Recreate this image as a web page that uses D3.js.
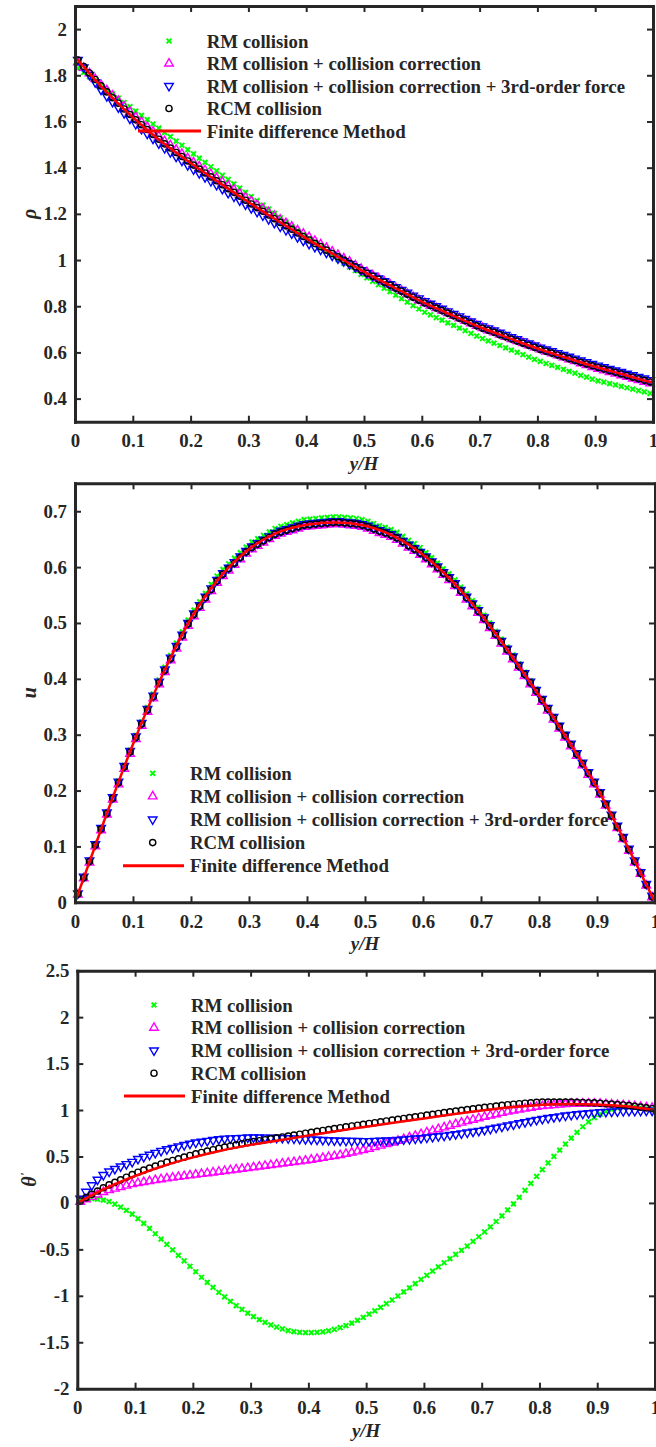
<!DOCTYPE html>
<meta charset="utf-8">
<style>
body { margin: 0; background: #fff; }
svg text { font-family: "Liberation Serif", "Times New Roman", serif; font-weight: bold; fill: #262626; }
</style>
<body>
<svg id="chart" width="656" height="1447"></svg>

<script src="https://cdnjs.cloudflare.com/ajax/libs/d3/7.8.5/d3.min.js"></script>
<script>

// marker positions (y/H) and finite difference knots
var xs = [0.005,0.015,0.025,0.035,0.045,0.055,0.065,0.075,0.085,0.095,
          0.105,0.115,0.125,0.135,0.145,0.155,0.165,0.175,0.185,0.195,
          0.205,0.215,0.225,0.235,0.245,0.255,0.265,0.275,0.285,0.295,
          0.305,0.315,0.325,0.335,0.345,0.355,0.365,0.375,0.385,0.395,
          0.405,0.415,0.425,0.435,0.445,0.455,0.465,0.475,0.485,0.495,
          0.505,0.515,0.525,0.535,0.545,0.555,0.565,0.575,0.585,0.595,
          0.605,0.615,0.625,0.635,0.645,0.655,0.665,0.675,0.685,0.695,
          0.705,0.715,0.725,0.735,0.745,0.755,0.765,0.775,0.785,0.795,
          0.805,0.815,0.825,0.835,0.845,0.855,0.865,0.875,0.885,0.895,
          0.905,0.915,0.925,0.935,0.945,0.955,0.965,0.975,0.985,0.995];
var xFD = [0,0.05,0.1,0.15,0.2,0.25,0.3,0.35,0.4,0.45,0.5,0.55,0.6,0.65,0.7,0.75,0.8,0.85,0.9,0.95,1];

var xTicks = [0,0.1,0.2,0.3,0.4,0.5,0.6,0.7,0.8,0.9,1];
var rhoTicks = [0.4,0.6,0.8,1,1.2,1.4,1.6,1.8,2];
var uTicks = [0,0.1,0.2,0.3,0.4,0.5,0.6,0.7];
var thetaTicks = [-2,-1.5,-1,-0.5,0,0.5,1,1.5,2,2.5];

var legendNames = ["RM collision", "RM collision + collision correction",
    "RM collision + collision correction + 3rd-order force", "RCM collision", "Finite difference Method"];

// ---- density rho ----
var rhoRM = [1.830,1.812,1.793,1.775,1.756,1.738,1.719,1.701,1.682,1.664,
             1.645,1.626,1.608,1.589,1.571,1.552,1.534,1.515,1.497,1.478,
             1.460,1.441,1.423,1.404,1.386,1.367,1.349,1.330,1.312,1.293,
             1.275,1.257,1.238,1.220,1.202,1.183,1.165,1.147,1.128,1.110,
             1.091,1.073,1.055,1.037,1.019,1.002,0.986,0.970,0.954,0.938,
             0.923,0.908,0.893,0.878,0.863,0.848,0.833,0.818,0.803,0.788,
             0.774,0.763,0.751,0.740,0.728,0.717,0.705,0.694,0.682,0.671,
             0.660,0.650,0.640,0.630,0.620,0.610,0.600,0.590,0.580,0.570,
             0.561,0.552,0.544,0.535,0.527,0.518,0.510,0.501,0.493,0.484,
             0.477,0.471,0.465,0.459,0.453,0.447,0.441,0.435,0.429,0.423];
var rhoCC = [1.856,1.832,1.808,1.784,1.759,1.735,1.712,1.689,1.665,1.642,
             1.619,1.598,1.577,1.556,1.535,1.515,1.497,1.478,1.460,1.441,
             1.423,1.406,1.389,1.372,1.355,1.338,1.321,1.305,1.288,1.271,
             1.255,1.239,1.223,1.207,1.191,1.175,1.160,1.145,1.129,1.114,
             1.099,1.083,1.068,1.053,1.037,1.022,1.007,0.993,0.977,0.962,
             0.948,0.934,0.921,0.907,0.894,0.880,0.867,0.853,0.840,0.826,
             0.814,0.803,0.792,0.781,0.770,0.759,0.748,0.737,0.726,0.715,
             0.705,0.696,0.687,0.677,0.668,0.658,0.649,0.640,0.631,0.622,
             0.613,0.604,0.596,0.587,0.579,0.570,0.562,0.553,0.545,0.537,
             0.529,0.522,0.515,0.508,0.501,0.494,0.487,0.480,0.473,0.466];
var rho3rd = [1.866,1.834,1.802,1.770,1.738,1.710,1.685,1.661,1.636,1.612,
              1.589,1.568,1.547,1.526,1.505,1.485,1.467,1.448,1.430,1.411,
              1.393,1.376,1.359,1.342,1.325,1.308,1.291,1.275,1.258,1.241,
              1.225,1.209,1.193,1.177,1.161,1.145,1.130,1.115,1.099,1.084,
              1.070,1.057,1.045,1.032,1.019,1.007,0.995,0.982,0.969,0.956,
              0.944,0.932,0.920,0.908,0.895,0.883,0.871,0.859,0.846,0.834,
              0.822,0.811,0.800,0.789,0.778,0.767,0.756,0.745,0.734,0.723,
              0.713,0.704,0.695,0.685,0.676,0.666,0.657,0.648,0.639,0.630,
              0.621,0.613,0.605,0.597,0.589,0.581,0.573,0.565,0.558,0.550,
              0.543,0.536,0.529,0.522,0.515,0.508,0.501,0.494,0.487,0.480];
var rhoRCM = [1.866,1.838,1.810,1.782,1.754,1.728,1.703,1.679,1.654,1.630,
              1.607,1.586,1.565,1.544,1.523,1.503,1.485,1.466,1.448,1.429,
              1.411,1.394,1.377,1.360,1.343,1.326,1.309,1.293,1.276,1.259,
              1.243,1.227,1.211,1.195,1.179,1.163,1.148,1.133,1.117,1.102,
              1.087,1.072,1.058,1.043,1.028,1.014,1.000,0.986,0.971,0.957,
              0.943,0.930,0.917,0.904,0.891,0.878,0.865,0.852,0.839,0.826,
              0.814,0.803,0.792,0.781,0.770,0.759,0.748,0.737,0.726,0.715,
              0.705,0.696,0.687,0.677,0.668,0.658,0.649,0.640,0.631,0.622,
              0.613,0.605,0.597,0.589,0.581,0.573,0.565,0.557,0.550,0.542,
              0.535,0.528,0.521,0.514,0.507,0.500,0.493,0.486,0.479,0.472];
var rhoFD = [1.880,1.740,1.618,1.512,1.420,1.334,1.251,1.171,1.094,1.021,0.950,
             0.884,0.820,0.764,0.710,0.663,0.617,0.577,0.538,0.503,0.468];

// ---- velocity u ----
var uRM = [0.015,0.045,0.074,0.104,0.133,0.161,0.189,0.217,0.245,0.272,
           0.299,0.323,0.349,0.373,0.398,0.421,0.442,0.464,0.484,0.505,
           0.523,0.538,0.553,0.569,0.584,0.596,0.606,0.616,0.626,0.636,
           0.645,0.651,0.657,0.663,0.669,0.673,0.676,0.679,0.682,0.685,
           0.686,0.687,0.688,0.689,0.690,0.690,0.689,0.688,0.687,0.685,
           0.682,0.678,0.674,0.671,0.667,0.662,0.655,0.648,0.642,0.635,
           0.626,0.617,0.607,0.597,0.588,0.577,0.564,0.552,0.540,0.528,
           0.514,0.500,0.485,0.471,0.457,0.443,0.427,0.412,0.397,0.382,
           0.365,0.349,0.333,0.317,0.301,0.284,0.267,0.250,0.233,0.216,
           0.196,0.176,0.156,0.136,0.116,0.094,0.073,0.052,0.031,0.010];
var uCC = [0.014,0.043,0.071,0.100,0.129,0.157,0.184,0.211,0.239,0.266,
           0.292,0.316,0.341,0.365,0.390,0.412,0.433,0.454,0.474,0.495,
           0.512,0.527,0.542,0.557,0.572,0.584,0.594,0.604,0.614,0.624,
           0.632,0.638,0.644,0.650,0.656,0.660,0.663,0.666,0.669,0.672,
           0.673,0.674,0.675,0.676,0.677,0.677,0.676,0.675,0.674,0.672,
           0.669,0.665,0.661,0.658,0.654,0.649,0.642,0.635,0.629,0.622,
           0.614,0.605,0.596,0.586,0.577,0.566,0.554,0.542,0.530,0.518,
           0.505,0.491,0.477,0.463,0.449,0.435,0.420,0.405,0.390,0.375,
           0.359,0.343,0.327,0.311,0.295,0.279,0.262,0.245,0.228,0.211,
           0.193,0.173,0.153,0.133,0.113,0.092,0.071,0.051,0.030,0.009];
var u3rd = [0.016,0.046,0.075,0.104,0.133,0.161,0.188,0.216,0.244,0.271,
            0.297,0.321,0.346,0.370,0.395,0.417,0.438,0.459,0.479,0.500,
            0.517,0.532,0.547,0.562,0.577,0.589,0.599,0.609,0.619,0.629,
            0.637,0.643,0.649,0.655,0.661,0.665,0.668,0.671,0.674,0.677,
            0.678,0.679,0.680,0.681,0.682,0.682,0.681,0.680,0.679,0.677,
            0.674,0.670,0.666,0.663,0.659,0.654,0.647,0.640,0.634,0.627,
            0.619,0.610,0.601,0.591,0.582,0.571,0.559,0.547,0.535,0.523,
            0.510,0.496,0.482,0.468,0.454,0.440,0.425,0.410,0.395,0.380,
            0.364,0.348,0.332,0.316,0.300,0.284,0.267,0.250,0.233,0.216,
            0.197,0.177,0.157,0.137,0.117,0.096,0.075,0.054,0.033,0.012];
var uRCM = [0.015,0.044,0.073,0.102,0.131,0.159,0.186,0.214,0.242,0.269,
            0.295,0.319,0.344,0.368,0.393,0.415,0.436,0.457,0.477,0.498,
            0.515,0.530,0.545,0.560,0.575,0.587,0.597,0.607,0.617,0.627,
            0.635,0.641,0.647,0.653,0.659,0.663,0.666,0.669,0.672,0.675,
            0.676,0.677,0.678,0.679,0.680,0.680,0.679,0.678,0.677,0.675,
            0.672,0.668,0.664,0.661,0.657,0.652,0.645,0.638,0.632,0.625,
            0.617,0.608,0.599,0.589,0.580,0.569,0.557,0.545,0.533,0.521,
            0.508,0.494,0.480,0.466,0.452,0.438,0.423,0.408,0.393,0.378,
            0.362,0.346,0.330,0.314,0.298,0.282,0.265,0.248,0.231,0.214,
            0.195,0.175,0.155,0.135,0.115,0.094,0.073,0.052,0.031,0.010];
var uFD = [0,0.145,0.283,0.405,0.508,0.582,0.632,0.662,0.676,0.680,0.674,
           0.655,0.622,0.575,0.515,0.445,0.370,0.290,0.205,0.105,0];

// ---- temperature theta' ----
var thRM = [0.040,0.045,0.045,0.040,0.030,0.015,-0.014,-0.045,-0.080,-0.121,
            -0.170,-0.220,-0.275,-0.332,-0.390,-0.447,-0.506,-0.565,-0.623,-0.682,
            -0.741,-0.800,-0.855,-0.909,-0.962,-1.012,-1.060,-1.106,-1.147,-1.187,
            -1.224,-1.256,-1.286,-1.314,-1.336,-1.357,-1.375,-1.386,-1.393,-1.396,
            -1.397,-1.394,-1.388,-1.378,-1.362,-1.343,-1.320,-1.294,-1.265,-1.233,
            -1.198,-1.162,-1.124,-1.085,-1.045,-1.002,-0.958,-0.914,-0.869,-0.824,
            -0.779,-0.734,-0.689,-0.644,-0.600,-0.555,-0.510,-0.464,-0.415,-0.364,
            -0.312,-0.258,-0.200,-0.140,-0.076,-0.010,0.060,0.135,0.210,0.285,
            0.358,0.430,0.500,0.568,0.634,0.698,0.760,0.820,0.872,0.918,
            0.955,0.985,1.008,1.024,1.034,1.038,1.036,1.030,1.022,1.013];
var thCC = [0.013,0.039,0.065,0.091,0.117,0.138,0.154,0.170,0.186,0.202,
            0.215,0.225,0.235,0.245,0.255,0.264,0.272,0.280,0.288,0.296,
            0.304,0.312,0.320,0.328,0.336,0.344,0.352,0.360,0.368,0.376,
            0.384,0.392,0.400,0.408,0.416,0.424,0.432,0.440,0.448,0.456,
            0.465,0.475,0.485,0.495,0.505,0.516,0.529,0.542,0.555,0.568,
            0.583,0.600,0.617,0.634,0.651,0.669,0.687,0.705,0.723,0.741,
            0.759,0.777,0.795,0.813,0.831,0.848,0.864,0.880,0.896,0.912,
            0.927,0.941,0.955,0.969,0.983,0.995,1.005,1.015,1.025,1.035,
            1.043,1.048,1.053,1.058,1.063,1.066,1.068,1.069,1.070,1.070,
            1.068,1.064,1.060,1.056,1.052,1.047,1.041,1.035,1.029,1.023];
var th3rd = [0.045,0.120,0.190,0.250,0.300,0.338,0.366,0.393,0.418,0.442,
             0.473,0.496,0.518,0.539,0.560,0.578,0.593,0.608,0.623,0.638,
             0.650,0.659,0.668,0.677,0.686,0.692,0.695,0.698,0.701,0.704,
             0.705,0.704,0.703,0.702,0.701,0.699,0.696,0.693,0.690,0.687,
             0.684,0.681,0.678,0.675,0.672,0.670,0.669,0.668,0.667,0.666,
             0.666,0.668,0.670,0.672,0.674,0.678,0.683,0.688,0.693,0.698,
             0.704,0.711,0.718,0.725,0.732,0.740,0.749,0.758,0.767,0.776,
             0.786,0.798,0.810,0.822,0.834,0.846,0.858,0.870,0.882,0.894,
             0.905,0.914,0.923,0.932,0.941,0.948,0.954,0.960,0.966,0.972,
             0.977,0.980,0.983,0.986,0.989,0.990,0.991,0.992,0.993,0.994];
var thRCM = [0.021,0.057,0.093,0.128,0.163,0.194,0.221,0.249,0.277,0.305,
             0.331,0.353,0.375,0.397,0.419,0.439,0.457,0.475,0.493,0.511,
             0.528,0.543,0.558,0.573,0.588,0.601,0.613,0.625,0.637,0.649,
             0.660,0.670,0.680,0.690,0.700,0.710,0.720,0.730,0.740,0.750,
             0.760,0.770,0.780,0.790,0.800,0.810,0.819,0.828,0.837,0.846,
             0.855,0.864,0.873,0.882,0.891,0.900,0.909,0.918,0.927,0.936,
             0.945,0.954,0.963,0.972,0.981,0.989,0.997,1.005,1.013,1.021,
             1.029,1.036,1.043,1.050,1.057,1.063,1.068,1.073,1.078,1.083,
             1.085,1.086,1.086,1.086,1.086,1.086,1.083,1.081,1.079,1.077,
             1.073,1.068,1.064,1.059,1.055,1.048,1.040,1.031,1.023,1.014];
var thFD = [0,0.16,0.29,0.40,0.49,0.565,0.625,0.675,0.725,0.775,0.82,
            0.865,0.91,0.955,0.995,1.03,1.055,1.065,1.06,1.04,1.0];

var ink = "#262626";
var svg = d3.select("#chart");

var markerStyles = [
    {color: "#00ff00", shape: "cross"},
    {color: "#ff00ff", shape: "up"},
    {color: "#0000ff", shape: "down"},
    {color: "#000000", shape: "circle"}
];

function markerPath(shape) {
    if (shape === "cross") return "M-2.4,-2.4L2.4,2.4M-2.4,2.4L2.4,-2.4";
    if (shape === "circle") return d3.symbol().type(d3.symbolCircle).size(30)();
    return d3.symbol().type(d3.symbolTriangle).size(32)();
}

function drawMarker(sel, shape, color) {
    return sel.attr("d", markerPath(shape))
        .attr("fill", "none")
        .attr("stroke", color)
        .attr("stroke-width", shape === "cross" ? 2 : 1.4);
}

function styleAxis(g) {
    g.attr("font-size", null).attr("font-family", null);
    g.select(".domain").attr("stroke", ink).attr("stroke-width", 3).attr("stroke-linecap", "square");
    g.selectAll(".tick line").attr("stroke", ink).attr("stroke-width", 2);
    g.selectAll(".tick text").attr("fill", ink).style("font-size", "18.8px");
}

function drawPanel(p) {
    var x = d3.scaleLinear().domain([0, 1]).range([p.left, p.right]);
    var y = d3.scaleLinear().domain(p.yDomain).range([p.bottom, p.top]);
    var g = svg.append("g");

    // marker series
    p.series.forEach(function (vals, k) {
        var st = markerStyles[k];
        drawMarker(g.append("g").selectAll("path").data(vals).join("path"), st.shape, st.color)
            .attr("transform", function (d, i) {
                return "translate(" + x(xs[i]) + "," + y(d) + ")" + (st.shape === "down" ? " rotate(180)" : "");
            });
    });

    // finite difference line
    g.append("path").datum(p.fd)
        .attr("fill", "none").attr("stroke", "#ff0000").attr("stroke-width", 2.5)
        .attr("d", d3.line().x(function (d, i) { return x(xFD[i]); })
            .y(function (d) { return y(d); }).curve(d3.curveMonotoneX));

    // axes box
    var fmt = function (d) { return String(d); };
    g.append("g").attr("transform", "translate(0," + p.bottom + ")")
        .call(d3.axisBottom(x).tickValues(xTicks).tickFormat(fmt).tickSize(-6).tickSizeOuter(0).tickPadding(12))
        .call(styleAxis);
    g.append("g").attr("transform", "translate(0," + p.top + ")")
        .call(d3.axisTop(x).tickValues(xTicks).tickFormat("").tickSize(-6).tickSizeOuter(0))
        .call(styleAxis);
    g.append("g").attr("transform", "translate(" + p.left + ",0)")
        .call(d3.axisLeft(y).tickValues(p.yTicks).tickFormat(fmt).tickSize(-6).tickSizeOuter(0).tickPadding(8))
        .call(styleAxis);
    g.append("g").attr("transform", "translate(" + p.right + ",0)")
        .call(d3.axisRight(y).tickValues(p.yTicks).tickFormat("").tickSize(-6).tickSizeOuter(0))
        .call(styleAxis);

    // axis titles
    g.append("text")
        .attr("x", (p.left + p.right) / 2).attr("y", p.bottom + 48)
        .attr("text-anchor", "middle").style("font-size", "19px").style("font-style", "italic")
        .text("y/H");
    var yl = g.append("text")
        .attr("transform", "translate(36," + (p.top + p.bottom) / 2 + ") rotate(-90)")
        .attr("text-anchor", "middle").style("font-size", "20px").style("font-style", "italic")
        .text(p.ylabel);
    if (p.prime) yl.append("tspan").attr("dy", -7).style("font-size", "13px").text("'");

    // legend
    var L = p.legend;
    legendNames.forEach(function (name, k) {
        var cy = L.y0 + k * L.dy;
        if (k < 4) {
            var st = markerStyles[k];
            drawMarker(g.append("path"), st.shape, st.color)
                .attr("transform", "translate(" + L.mx + "," + cy + ")" + (st.shape === "down" ? " rotate(180)" : ""));
        } else {
            g.append("line").attr("x1", L.l1).attr("x2", L.l2).attr("y1", cy).attr("y2", cy)
                .attr("stroke", "#ff0000").attr("stroke-width", 3);
        }
        g.append("text").attr("x", L.tx).attr("y", cy + 6.5).style("font-size", "18.8px").text(name);
    });
}

drawPanel({left: 75, right: 653, top: 6, bottom: 421.7, yDomain: [0.3, 2.1], yTicks: rhoTicks,
    ylabel: "ρ", series: [rhoRM, rhoCC, rho3rd, rhoRCM], fd: rhoFD,
    legend: {mx: 169, tx: 206.7, y0: 41, dy: 22.5, l1: 138, l2: 201}});
drawPanel({left: 75, right: 655, top: 483.3, bottom: 902.3, yDomain: [0, 0.75], yTicks: uTicks,
    ylabel: "u", series: [uRM, uCC, u3rd, uRCM], fd: uFD,
    legend: {mx: 152.7, tx: 190, y0: 773.3, dy: 23.1, l1: 123, l2: 184}});
drawPanel({left: 77.3, right: 655, top: 970.7, bottom: 1388.7, yDomain: [-2, 2.5], yTicks: thetaTicks,
    ylabel: "θ", prime: true, series: [thRM, thCC, th3rd, thRCM], fd: thFD,
    legend: {mx: 154, tx: 191, y0: 1005, dy: 22.75, l1: 124, l2: 185}});

</script>
</body>
